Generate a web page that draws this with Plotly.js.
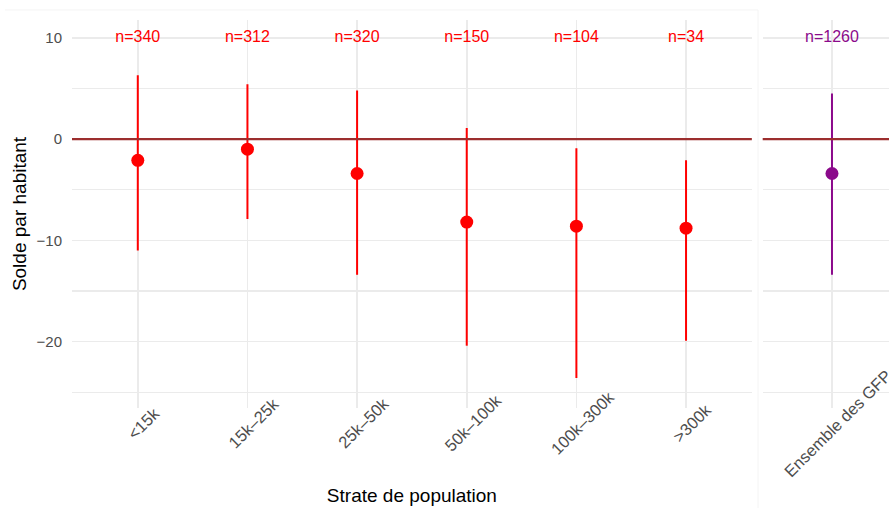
<!DOCTYPE html>
<html><head><meta charset="utf-8">
<script src="https://cdn.plot.ly/plotly-3.0.1.min.js"></script>
<style>html,body{margin:0;padding:0;background:#fff}</style>
</head><body>
<div id="chart" style="width:889px;height:508px"></div>
<script>
// ---- data ----
const strates = ["<15k", "15k–25k", "25k–50k", "50k–100k", "100k–300k", ">300k"];
const strateMean = [-2.1, -1.0, -3.4, -8.2, -8.6, -8.8];
const strateLow  = [-11.0, -7.9, -13.4, -20.4, -23.6, -19.9];
const strateHigh = [6.3, 5.4, 4.8, 1.1, -0.9, -2.1];
const strateN    = [340, 312, 320, 150, 104, 34];

const totalLabel = ["Ensemble des GFP"];
const totalMean  = [-3.4];
const totalLow   = [-13.4];
const totalHigh  = [4.5];
const totalN     = [1260];

const nLabelLevel = 10;   // value at which the n= labels sit

// ---- styling ----
const FONT = "Liberation Sans, Arial, sans-serif";
const RED = "#FF0000";
const PURPLE = "#8B0A8B";
const GRID = "#EBEBEB";
const TICKCOL = "#4D4D4D";

const posL = strates.map((_, i) => i + 1);
const posR = totalLabel.map((_, i) => i + 1);

function errTrace(x, mean, low, high, color, xa) {
  return {
    type: "scatter", mode: "markers", x: x, y: mean, xaxis: xa, yaxis: "y",
    marker: {color: color, size: 13},
    error_y: {type: "data", symmetric: false,
      array: high.map((h, i) => h - mean[i]),
      arrayminus: low.map((l, i) => mean[i] - l),
      color: color, thickness: 2, width: 0},
    hoverinfo: "skip", showlegend: false
  };
}
function nTrace(x, n, color, xa) {
  return {
    type: "scatter", mode: "text", x: x, y: x.map(() => nLabelLevel), xaxis: xa, yaxis: "y",
    text: n.map(v => "n=" + v), textposition: "middle center",
    textfont: {family: FONT, size: 16, color: color},
    hoverinfo: "skip", showlegend: false
  };
}

const data = [
  errTrace(posL, strateMean, strateLow, strateHigh, RED, "x"),
  nTrace(posL, strateN, RED, "x"),
  errTrace(posR, totalMean, totalLow, totalHigh, PURPLE, "x2"),
  nTrace(posR, totalN, PURPLE, "x2")
];

const tickAnn = [];
strates.forEach((s, i) => tickAnn.push({xref: "x", yref: "paper", x: posL[i], y: 0, text: s}));
totalLabel.forEach((s, i) => tickAnn.push({xref: "x2", yref: "paper", x: posR[i], y: 0, text: s}));
tickAnn.forEach(a => Object.assign(a, {
  showarrow: false, textangle: -45, xanchor: "center", yanchor: "middle",
  xshift: 6, yshift: -15, font: {family: FONT, size: 16.5, color: TICKCOL}
}));

const layout = {
  width: 889, height: 508,
  margin: {l: 72, r: 0, t: 20, b: 100},
  paper_bgcolor: "#fff", plot_bgcolor: "#fff",
  font: {family: FONT, color: "#000"},
  showlegend: false,
  xaxis: {
    domain: [0, 0.8321], range: [0.4, 6.6], tickvals: posL, showticklabels: false,
    showgrid: true, gridcolor: GRID, gridwidth: 1.6, zeroline: false, showline: false, ticks: "",
    automargin: true,
    title: {text: "Strate de population", font: {family: FONT, size: 19, color: "#000"}, standoff: 80}
  },
  xaxis2: {
    domain: [0.8454, 1], range: [0.368, 1.52], tickvals: posR, showticklabels: false, anchor: "y",
    showgrid: true, gridcolor: GRID, gridwidth: 1.6, zeroline: false, showline: false, ticks: ""
  },
  yaxis: {
    range: [-26.55, 11.75], tick0: 0, dtick: 10, anchor: "x",
    showgrid: true, gridcolor: GRID, gridwidth: 1.6,
    minor: {dtick: 5, tick0: 0, showgrid: true, gridcolor: GRID, gridwidth: 1.3, ticks: ""},
    zeroline: false, showline: false,
    ticks: "outside", ticklen: 6, tickcolor: "rgba(0,0,0,0)",
    tickfont: {family: FONT, size: 15, color: TICKCOL},
    automargin: true,
    title: {text: "Solde par habitant", font: {family: FONT, size: 19, color: "#000"}, standoff: 4}
  },
  shapes: [
    {type: "line", xref: "x domain", x0: 0, x1: 1, yref: "y", y0: 0, y1: 0,
     line: {color: "#9C2E2E", width: 2.2}, layer: "above"},
    {type: "line", xref: "x2 domain", x0: 0, x1: 1, yref: "y", y0: 0, y1: 0,
     line: {color: "#9C2E2E", width: 2.2}, layer: "above"},
    {type: "line", xref: "paper", yref: "paper", x0: -0.082, x1: 0.8397, y0: 1.0258, y1: 1.0258,
     line: {color: "#F4F4F4", width: 1}, layer: "below"},
    {type: "line", xref: "paper", yref: "paper", x0: 0.8397, x1: 0.8397, y0: 1.0258, y1: -0.26,
     line: {color: "#F4F4F4", width: 1}, layer: "below"}
  ],
  annotations: tickAnn
};

Plotly.newPlot("chart", data, layout, {displayModeBar: false, staticPlot: true});
</script>
</body></html>
